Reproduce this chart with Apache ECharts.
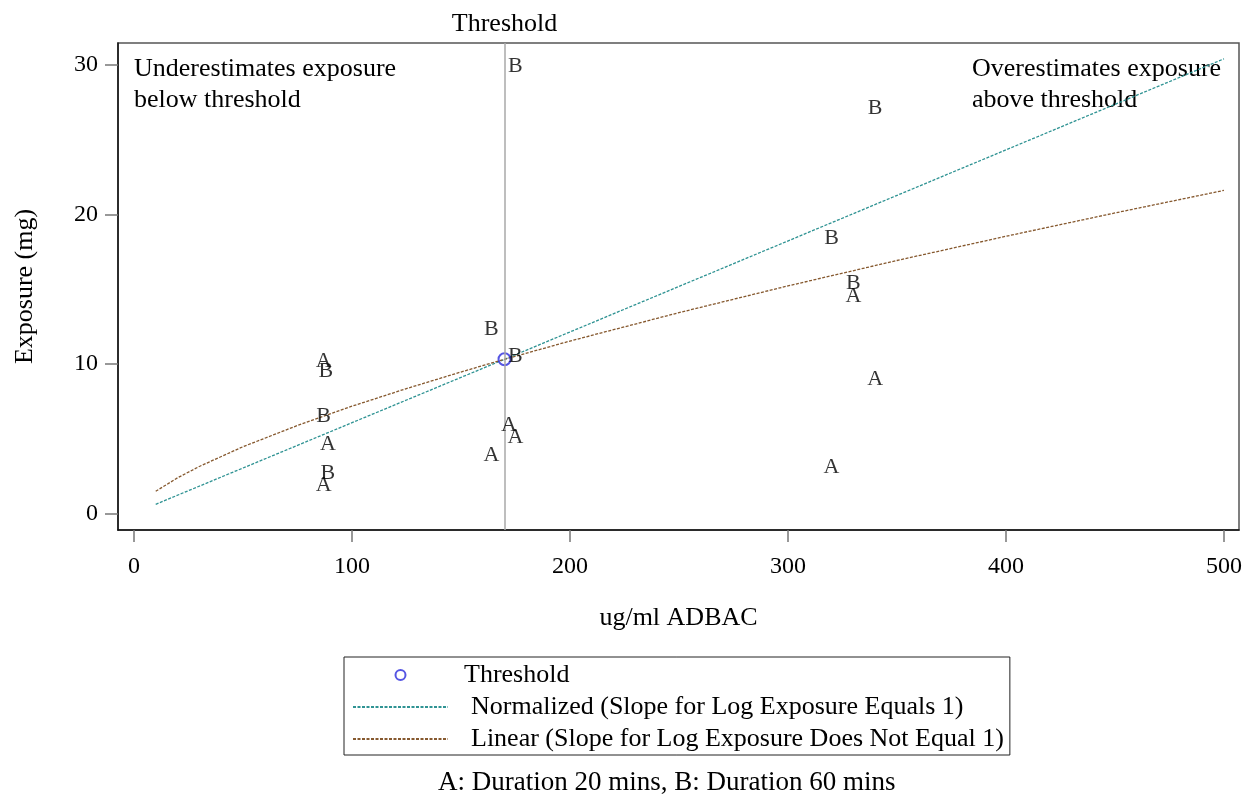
<!DOCTYPE html>
<html>
<head>
<meta charset="utf-8">
<script src="https://cdn.jsdelivr.net/npm/echarts@6/dist/echarts.min.js"></script>
<style>
  html, body { margin: 0; padding: 0; background: #fff; }
  #chart { width: 1247px; height: 798px; }
</style>
</head>
<body>
<div id="chart"></div>
<script>
// Observations: ug/ml ADBAC vs exposure (mg), by exposure duration
const durationA = [ // A: 20 minutes
  [87, 10.2], [89, 4.6], [87, 1.9],
  [164, 3.9], [172, 5.9], [175, 5.1],
  [320, 3.1], [330, 14.5], [340, 9.0]
];
const durationB = [ // B: 60 minutes
  [88, 9.5], [87, 6.5], [89, 2.7],
  [164, 12.3], [175, 10.5], [175, 29.9],
  [320, 18.4], [330, 15.4], [340, 27.1]
];

// Threshold point
const thresholdPoint = [[170, 10.3]];

// Fitted curves
const normalizedCurve = [[10, 0.6], [170, 10.3], [500, 30.4]];
const linearCurve = [
  [10, 1.47], [20, 2.37], [30, 3.13], [50, 4.45], [75, 5.87], [100, 7.16],
  [125, 8.34], [150, 9.45], [170, 10.3], [200, 11.52], [250, 13.42],
  [300, 15.21], [350, 16.91], [400, 18.53], [450, 20.09], [500, 21.6]
];

// Axis ticks
const xTicks = [0, 100, 200, 300, 400, 500];
const yTicks = [0, 10, 20, 30];

const FONT = '"Liberation Serif", "Times New Roman", serif';
const TEAL = '#2f9393';
const BROWN = '#86592f';
const BLUE = '#2b2bdc';

const NAME_NORM = 'Normalized (Slope for Log Exposure Equals 1)';
const NAME_LIN = 'Linear (Slope for Log Exposure Does Not Equal 1)';

const chart = echarts.init(document.getElementById('chart'), null, { renderer: 'canvas' });

function letterSeries(name, data) {
  return {
    name: name,
    type: 'scatter',
    data: data,
    symbol: 'circle',
    symbolSize: 1,
    silent: true,
    z: 5,
    itemStyle: { color: 'rgba(0,0,0,0)' },
    label: {
      show: true,
      position: 'inside',
      formatter: name,
      color: '#000',
      fontFamily: FONT,
      fontSize: 22
    }
  };
}

const option = {
  backgroundColor: '#fff',
  animation: false,
  textStyle: { fontFamily: FONT },
  grid: {
    left: 118, right: 8, top: 43, bottom: 268,
    show: true, borderColor: '#555', borderWidth: 1.5, containLabel: false
  },
  xAxis: {
    type: 'value',
    min: -7.3, max: 506.9,
    name: 'ug/ml ADBAC',
    nameLocation: 'middle',
    nameGap: 75,
    nameTextStyle: { fontFamily: FONT, fontSize: 26, color: '#000' },
    splitLine: { show: false },
    axisLine: { show: true, onZero: false, lineStyle: { color: '#111', width: 1.5 } },
    axisTick: { show: true, customValues: xTicks, length: 12, lineStyle: { color: '#777', width: 1.5 } },
    axisLabel: { customValues: xTicks, margin: 25, fontFamily: FONT, fontSize: 24, color: '#000' }
  },
  yAxis: {
    type: 'value',
    min: -1.12, max: 31.46,
    name: 'Exposure (mg)',
    nameLocation: 'middle',
    nameRotate: 90,
    nameGap: 80,
    nameTextStyle: { fontFamily: FONT, fontSize: 26, color: '#000' },
    splitLine: { show: false },
    axisLine: { show: true, onZero: false, lineStyle: { color: '#111', width: 1.5 } },
    axisTick: { show: true, customValues: yTicks, length: 13, lineStyle: { color: '#777', width: 1.5 } },
    axisLabel: { customValues: yTicks, margin: 20, fontFamily: FONT, fontSize: 24, color: '#000' }
  },
  legend: {
    data: [
      { name: 'Threshold' },
      { name: NAME_NORM, itemStyle: { opacity: 0 } },
      { name: NAME_LIN, itemStyle: { opacity: 0 } }
    ],
    orient: 'vertical',
    left: 344, top: 657,
    padding: [5, 6, 3, 8],
    itemWidth: 95,
    itemHeight: 10,
    itemGap: 6,
    backgroundColor: '#fff',
    borderColor: '#222',
    borderWidth: 1,
    borderRadius: 0,
    selectedMode: false,
    formatter: function (name) {
      return name === 'Threshold' ? '{t|' + name + '}' : '{s|' + name + '}';
    },
    textStyle: {
      fontFamily: FONT, fontSize: 26, color: '#000', lineHeight: 26,
      rich: {
        t: { fontFamily: FONT, fontSize: 26, color: '#000', padding: [0, 0, 0, 11], lineHeight: 26 },
        s: { fontFamily: FONT, fontSize: 26, color: '#000', padding: [0, 0, 0, 18], lineHeight: 26 }
      }
    }
  },
  graphic: [
    {
      type: 'text', left: 134, top: 54,
      style: { text: 'Underestimates exposure\nbelow threshold', font: '26px ' + FONT, fill: '#000', lineHeight: 31 }
    },
    {
      type: 'text', left: 972, top: 54,
      style: { text: 'Overestimates exposure\nabove threshold', font: '26px ' + FONT, fill: '#000', lineHeight: 31 }
    },
    {
      type: 'text', left: 438, top: 769,
      style: { text: 'A: Duration 20 mins, B: Duration 60 mins', font: '27px ' + FONT, fill: '#000' }
    }
  ],
  series: [
    {
      name: NAME_NORM,
      type: 'line',
      data: normalizedCurve,
      showSymbol: false,
      symbol: 'none',
      clip: false,
      silent: true,
      z: 3,
      itemStyle: { color: TEAL },
      lineStyle: { color: TEAL, width: 1.3, type: [3, 1.5] }
    },
    {
      name: NAME_LIN,
      type: 'line',
      data: linearCurve,
      showSymbol: false,
      symbol: 'none',
      silent: true,
      z: 3,
      itemStyle: { color: BROWN },
      lineStyle: { color: BROWN, width: 1.3, type: [3, 1.5] }
    },
    {
      name: 'Threshold',
      type: 'scatter',
      data: thresholdPoint,
      symbol: 'circle',
      symbolSize: 12,
      silent: true,
      z: 4,
      itemStyle: { color: 'rgba(255,255,255,0)', borderColor: BLUE, borderWidth: 2 },
      markLine: {
        silent: true,
        symbol: ['none', 'none'],
        lineStyle: { color: '#a8a8a8', width: 1.5, type: 'solid' },
        label: {
          show: true, position: 'end', formatter: 'Threshold', distance: 6,
          fontFamily: FONT, fontSize: 26, color: '#000'
        },
        data: [{ xAxis: thresholdPoint[0][0] }]
      }
    },
    letterSeries('A', durationA),
    letterSeries('B', durationB)
  ]
};

chart.setOption(option);
</script>
</body>
</html>
